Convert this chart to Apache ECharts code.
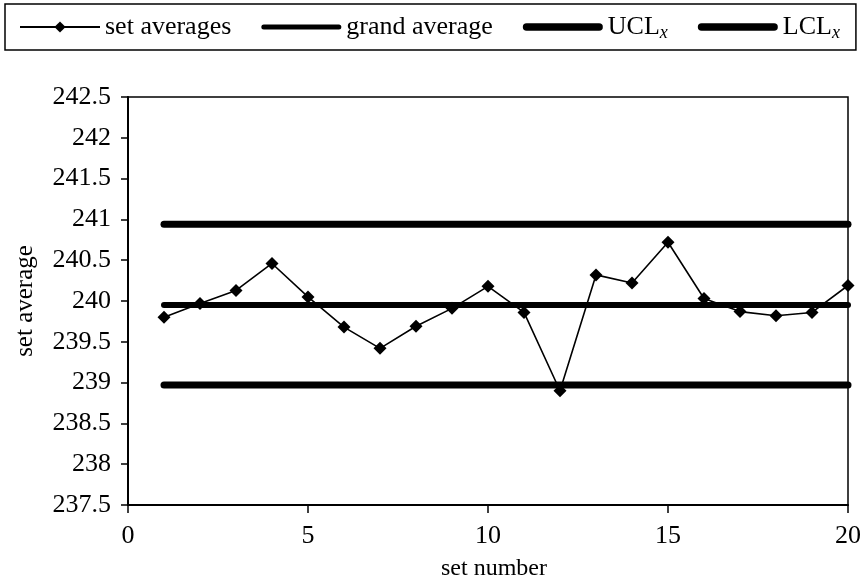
<!DOCTYPE html>
<html>
<head>
<meta charset="utf-8">
<script src="https://cdn.jsdelivr.net/npm/echarts@6/dist/echarts.min.js"></script>
<style>
html,body{margin:0;padding:0;background:#fff;}
#chart{width:861px;height:580px;}
</style>
</head>
<body>
<div id="chart"></div>
<script>
const setNumbers = [1,2,3,4,5,6,7,8,9,10,11,12,13,14,15,16,17,18,19,20];
const setAverages = [239.80,239.97,240.13,240.46,240.05,239.68,239.42,239.69,239.91,240.18,
                     239.86,238.90,240.32,240.22,240.72,240.03,239.87,239.82,239.86,240.19];
const grandAverage = 239.95;
const uclX = 240.94;
const lclX = 238.97;
const seriesNames = ['set averages','grand average','UCLx','LCLx'];
const xTicks = {min:0, max:20, interval:5};
const yTicks = {min:237.5, max:242.5, interval:0.5};

const FONT = 'Liberation Serif';
const first = setNumbers[0], last = setNumbers[setNumbers.length-1];
const hLine = v => [[first, v],[last, v]];

function roundBar(w, h){
  const r = h/2;
  return 'path://M'+r+',0 L'+(w-r)+',0 A'+r+','+r+' 0 0 1 '+(w-r)+','+h+' L'+r+','+h+' A'+r+','+r+' 0 0 1 '+r+',0 Z';
}
const tickRich = {v:{fontFamily:FONT, fontSize:26, color:'#000'}};

const chart = echarts.init(document.getElementById('chart'), null, {renderer:'canvas'});
chart.setOption({
  backgroundColor:'#fff',
  animation:false,
  textStyle:{fontFamily:FONT, color:'#000'},
  legend:{
    left:5, top:4,
    padding:[8,16,8,14],
    itemWidth:80, itemHeight:14, itemGap:30,
    borderColor:'#000', borderWidth:1.5, borderRadius:0,
    textStyle:{fontFamily:FONT, fontSize:26, color:'#000', lineHeight:30,
      rich:{
        a:{fontFamily:FONT, fontSize:26, color:'#000', lineHeight:30},
        s:{fontFamily:FONT, fontSize:18, fontStyle:'italic', color:'#000', lineHeight:18, verticalAlign:'bottom', padding:[12,0,0,0]}
      }},
    formatter: n => (n === 'UCLx' ? '{a|UCL}{s|x}' : n === 'LCLx' ? '{a|LCL}{s|x}' : n),
    data:[
      {name:seriesNames[0]},
      {name:seriesNames[1], icon:roundBar(80,5), itemStyle:{color:'#000'}},
      {name:seriesNames[2], icon:roundBar(80,7.5), itemStyle:{color:'#000'}},
      {name:seriesNames[3], icon:roundBar(80,7.5), itemStyle:{color:'#000'}}
    ]
  },
  grid:{left:128, right:13, top:97, bottom:75, containLabel:false, outerBoundsMode:'none',
        show:true, borderColor:'#000', borderWidth:1.5, backgroundColor:'transparent'},
  xAxis:{
    type:'value', min:xTicks.min, max:xTicks.max, interval:xTicks.interval,
    name:'set number', nameLocation:'middle', nameGap:52,
    nameTextStyle:{fontFamily:FONT, fontSize:24, color:'#000', padding:[0,0,0,12]},
    axisLine:{show:true, onZero:false, lineStyle:{color:'#000', width:2}},
    axisTick:{show:true, length:8, lineStyle:{color:'#000', width:1.5}},
    axisLabel:{fontFamily:FONT, fontSize:26, color:'#000', margin:18,
               formatter: v => '{v|' + v + '}', rich:tickRich},
    splitLine:{show:false}
  },
  yAxis:{
    type:'value', min:yTicks.min, max:yTicks.max, interval:yTicks.interval,
    name:'set average', nameLocation:'middle', nameGap:90,
    nameTextStyle:{fontFamily:FONT, fontSize:25, color:'#000'},
    axisLine:{show:true, lineStyle:{color:'#000', width:2}},
    axisTick:{show:true, length:7, lineStyle:{color:'#000', width:1.5}},
    axisLabel:{fontFamily:FONT, fontSize:26, color:'#000', margin:17,
               formatter: v => '{v|' + v + '}', rich:tickRich},
    splitLine:{show:false}
  },
  series:[
    {name:seriesNames[0], type:'line', z:5,
     data:setNumbers.map((x,i)=>[x, setAverages[i]]),
     symbol:'diamond', symbolSize:13, showSymbol:true,
     lineStyle:{color:'#000', width:1.6}, itemStyle:{color:'#000'}},
    {name:seriesNames[1], type:'line', z:2, data:hLine(grandAverage), showSymbol:false, symbol:'none',
     lineStyle:{color:'#000', width:6, cap:'round'}, itemStyle:{color:'#000'}},
    {name:seriesNames[2], type:'line', z:2, data:hLine(uclX), showSymbol:false, symbol:'none',
     lineStyle:{color:'#000', width:7, cap:'round'}, itemStyle:{color:'#000'}},
    {name:seriesNames[3], type:'line', z:2, data:hLine(lclX), showSymbol:false, symbol:'none',
     lineStyle:{color:'#000', width:7, cap:'round'}, itemStyle:{color:'#000'}}
  ]
});
</script>
</body>
</html>
